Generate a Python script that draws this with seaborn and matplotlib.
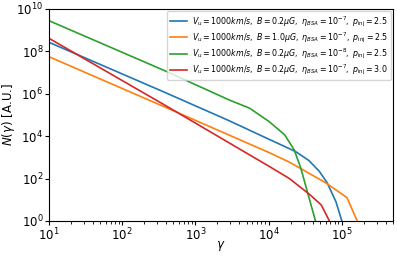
import numpy as np
import pandas as pd
import matplotlib
matplotlib.use("Agg")
import matplotlib.pyplot as plt
import seaborn as sns

# values, as log10(gamma) and log10(N)
labels = [
    r"$V_u = 1000km/s,\ B = 0.2\mu G,\ \eta_{BSA} = 10^{-7},\ p_{\rm inj} = 2.5$",
    r"$V_u = 1000km/s,\ B = 1.0\mu G,\ \eta_{BSA} = 10^{-7},\ p_{\rm inj} = 2.5$",
    r"$V_u = 1000km/s,\ B = 0.2\mu G,\ \eta_{BSA} = 10^{-8},\ p_{\rm inj} = 2.5$",
    r"$V_u = 1000km/s,\ B = 0.2\mu G,\ \eta_{BSA} = 10^{-7},\ p_{\rm inj} = 3.0$",
]

lg_blue = [1.0, 2.58, 3.46, 3.92, 4.37, 4.55, 4.69, 4.80, 4.92, 5.00, 5.02]
ln_blue = [8.43, 6.07, 4.73, 3.99, 3.27, 2.85, 2.35, 1.80, 0.90, 0.0, -0.2]

lg_orange = [1.0, 2.58, 4.01, 4.28, 4.78, 5.07, 5.21, 5.23]
ln_orange = [7.75, 5.38, 3.22, 2.78, 1.80, 1.10, 0.0, -0.2]

lg_green = [1.0, 2.58, 3.46, 3.74, 4.01, 4.22, 4.35, 4.44, 4.64, 4.66]
ln_green = [9.45, 7.09, 5.71, 5.32, 4.68, 4.06, 3.35, 2.49, 0.0, -0.3]

lg_red = [1.0, 2.58, 4.01, 4.28, 4.56, 4.72, 4.83, 4.85]
ln_red = [8.62, 5.47, 2.57, 2.01, 1.25, 0.75, 0.0, -0.2]

frames = []
for lab, lg, ln in zip(labels, [lg_blue, lg_orange, lg_green, lg_red],
                       [ln_blue, ln_orange, ln_green, ln_red]):
    frames.append(pd.DataFrame({"gamma": 10 ** np.array(lg), "N": 10 ** np.array(ln), "label": lab}))
df = pd.concat(frames, ignore_index=True)

fig = plt.figure(figsize=(3.97, 2.56), dpi=100)
ax = fig.add_axes([0.123, 0.137, 0.867, 0.828])
sns.lineplot(data=df, x="gamma", y="N", hue="label", hue_order=labels,
             palette=["#1f77b4", "#ff7f0e", "#2ca02c", "#d62728"],
             sort=False, estimator=None, lw=1.2, ax=ax)
ax.set_xscale("log")
ax.set_yscale("log")
ax.set_xlim(10, 5e5)
ax.set_ylim(1, 1e10)
ax.set_xlabel(r"$\gamma$", fontsize=8.5)
ax.set_ylabel(r"$N(\gamma)$ [A.U.]", fontsize=8.5)
ax.xaxis.set_label_coords(0.5, -0.085)
ax.yaxis.set_label_coords(-0.092, 0.5)
ax.tick_params(labelsize=8.5, length=3, pad=1)
ax.tick_params(which="minor", length=1.8)
ax.legend(loc="upper right", fontsize=5.7, handlelength=2.2, borderpad=0.35,
          labelspacing=0.2, handletextpad=0.6, borderaxespad=0.3)
fig.savefig("out.png", dpi=100)
